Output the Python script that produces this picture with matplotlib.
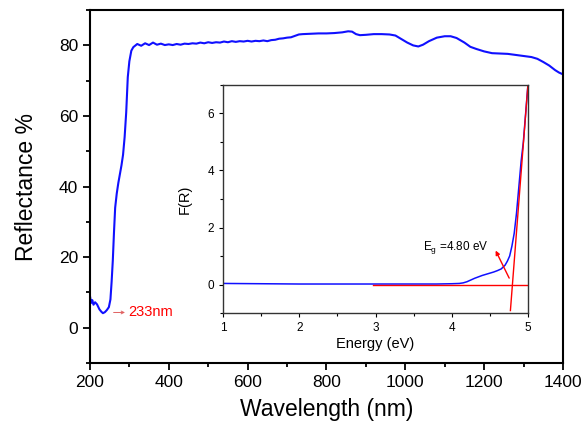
import matplotlib
matplotlib.use('Agg')

import matplotlib.pyplot as plt
from matplotlib.ticker import MultipleLocator

plt.rcParams['font.family'] = ['Liberation Sans', 'DejaVu Sans']

# Main reflectance spectrum (wavelength in nm, reflectance in %)
wavelength = [200, 203, 206, 209, 213, 218, 224, 229, 233, 238, 243, 248, 252, 255, 258, 261, 264,
              268, 272, 276, 280, 284, 288, 292, 296, 300, 305, 310,
              320, 330, 340, 350, 360, 370, 380, 390, 400, 410, 420, 430, 440, 450, 460, 470, 480,
              490, 500, 510, 520, 530, 540, 550, 560, 570, 580, 590, 600, 610, 620, 630, 640, 650,
              660, 670, 680, 690, 700, 710, 720, 730, 740,
              760, 780, 800, 820, 840, 855, 865, 875, 885, 900, 920, 940, 960, 975, 990, 1005, 1020,
              1033, 1045, 1060, 1080, 1100, 1115, 1130, 1150, 1165, 1180, 1200, 1220, 1240, 1260,
              1280, 1300, 1320, 1335, 1350, 1365, 1380, 1390, 1400]
reflectance = [9.0, 7.0, 7.8, 6.5, 7.2, 6.6, 5.2, 4.5, 4.1, 4.4, 5.0, 5.8, 8.0, 13.0, 19.0, 27.0, 34.0,
               38.0, 41.0, 43.5, 46.0, 49.0, 54.0, 61.0, 71.0, 75.5, 78.5, 79.5,
               80.4, 79.9, 80.6, 80.1, 80.8, 80.2, 80.5, 80.1, 80.3, 80.1, 80.4, 80.2, 80.5, 80.4,
               80.6, 80.5, 80.8, 80.6, 80.9, 80.7, 80.9, 80.8, 81.1, 80.9, 81.2, 81.0, 81.2, 81.1,
               81.3, 81.1, 81.3, 81.2, 81.4, 81.2, 81.5, 81.6, 81.9, 82.0, 82.2, 82.3, 82.7, 83.1,
               83.2,
               83.3, 83.4, 83.4, 83.5, 83.7, 84.0, 83.9, 83.2, 82.9, 83.0, 83.2, 83.2, 83.1, 82.8,
               81.8, 80.8, 80.0, 79.7, 80.2, 81.2, 82.2, 82.6, 82.6, 82.1, 80.8, 79.6, 79.0, 78.3,
               77.8, 77.7, 77.6, 77.3, 77.0, 76.7, 76.2, 75.3, 74.3, 73.0, 72.3, 71.8]

# Inset: Kubelka-Munk function vs photon energy
energy = [1.0, 1.5, 2.0, 2.5, 3.0, 3.5, 3.8, 4.0, 4.1, 4.15, 4.2, 4.25, 4.3, 4.35, 4.4, 4.45, 4.5,
          4.55, 4.6, 4.65, 4.7, 4.73, 4.76, 4.79, 4.82, 4.85, 4.88, 4.91, 4.94, 4.97, 5.0]
f_r = [0.04, 0.03, 0.02, 0.02, 0.02, 0.02, 0.02, 0.03, 0.04, 0.06, 0.10, 0.16, 0.22, 0.27, 0.32,
       0.36, 0.40, 0.44, 0.49, 0.55, 0.68, 0.82, 1.0, 1.35, 1.8, 2.5, 3.4, 4.3, 5.0, 6.0, 7.0]

# Fitted lines for the band gap
baseline_x = [2.97, 5.0]
baseline_y = [0.0, 0.0]
tangent_x = [4.77, 5.0]
tangent_y = [-0.91, 7.0]

fig = plt.figure(figsize=(5.84, 4.22), dpi=100)
ax = fig.add_axes([0.154, 0.140, 0.810, 0.836])
ax.plot(wavelength, reflectance, color='#1010ff', lw=1.5)
ax.set_xlim(200, 1400)
ax.set_ylim(-10, 90)
ax.xaxis.set_major_locator(MultipleLocator(200))
ax.xaxis.set_minor_locator(MultipleLocator(100))
ax.yaxis.set_major_locator(MultipleLocator(20))
ax.yaxis.set_minor_locator(MultipleLocator(10))
ax.tick_params(which='both', direction='out', top=False, right=False, width=1.3)
ax.tick_params(which='major', length=5, labelsize=12.5)
ax.tick_params(which='minor', length=3)
for s in ax.spines.values():
    s.set_linewidth(1.5)
ax.set_xlabel('Wavelength (nm)', fontsize=16.5, labelpad=6)
ax.set_ylabel('Reflectance %', fontsize=16.5, labelpad=15)

ax.text(297, 4.3, '233nm', color='red', fontsize=10.5, va='center', ha='left')
ax.annotate('', xy=(296, 4.3), xytext=(253, 4.3),
            arrowprops=dict(arrowstyle='->', color='#e06060', lw=0.7, mutation_scale=5))

# inset
ins = fig.add_axes([0.382, 0.258, 0.522, 0.541])
ins.plot(energy, f_r, color='#1010ff', lw=1.1)
ins.plot(baseline_x, baseline_y, color='red', lw=1.0)
ins.plot(tangent_x, tangent_y, color='red', lw=1.0)
ins.set_xlim(1, 5)
ins.set_ylim(-1, 7)
ins.xaxis.set_major_locator(MultipleLocator(1))
ins.xaxis.set_minor_locator(MultipleLocator(0.5))
ins.yaxis.set_major_locator(MultipleLocator(2))
ins.yaxis.set_minor_locator(MultipleLocator(1))
ins.tick_params(which='both', direction='out', top=False, right=False, width=0.8)
ins.tick_params(which='major', length=3, labelsize=8.5)
ins.tick_params(which='minor', length=2)
for s in ins.spines.values():
    s.set_linewidth(1.0)
    s.set_color('#333333')
ins.set_xlabel('Energy (eV)', fontsize=10.5, labelpad=2)
ins.set_ylabel('F(R)', fontsize=10.5, labelpad=11)
ins.text(3.62, 1.3, r'E$_\mathregular{g}$ =4.80 eV', fontsize=8.5, va='center', ha='left')
ins.annotate('', xy=(4.56, 1.28), xytext=(4.77, 0.14),
             arrowprops=dict(arrowstyle='-|>', color='red', lw=1.0, mutation_scale=6))

fig.savefig('out.png', dpi=100)
